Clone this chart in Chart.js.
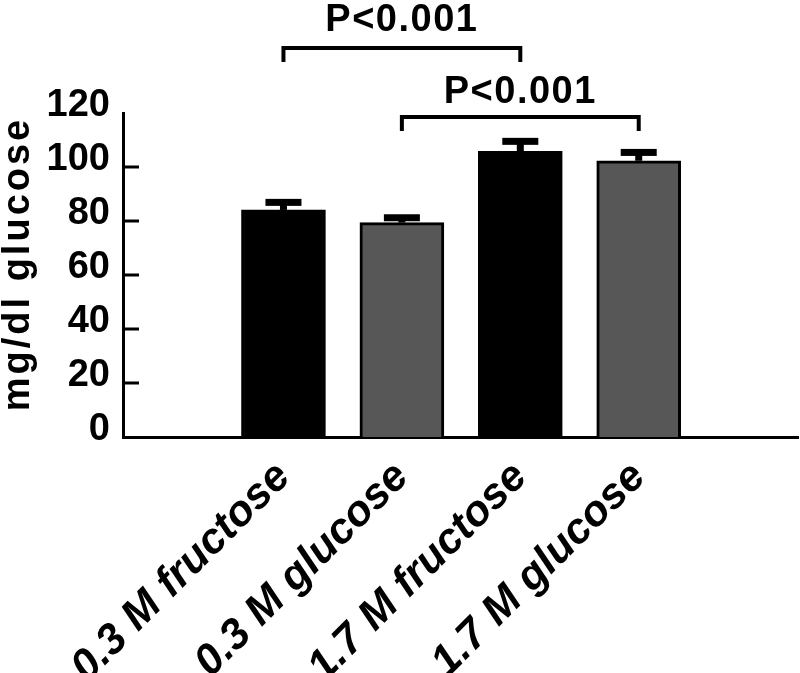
<!DOCTYPE html>
<html><head><meta charset="utf-8">
<script src="https://cdn.jsdelivr.net/npm/chart.js@4.4.1/dist/chart.umd.min.js"></script>
<style>html,body{margin:0;padding:0;background:#fff;overflow:hidden}#wrap{width:800px;height:673px;position:relative}</style>
</head><body><div id="wrap"><canvas id="c"></canvas></div>
<script>
const categories = ['0.3 M fructose', '0.3 M glucose', '1.7 M fructose', '1.7 M glucose'];
const means = [84.1, 79.4, 105.8, 102.3];
const sems = [2.8, 1.8, 3.7, 3.1];
const barColors = ['#000000', '#575757', '#000000', '#575757'];
const yTicks = [0, 20, 40, 60, 80, 100, 120];
const comparisons = [{from: 0, to: 2, label: 'P<0.001'}, {from: 1, to: 3, label: 'P<0.001'}];
const yTitle = 'mg/dl glucose';

const FONT = "'Liberation Sans', Arial, Helvetica, sans-serif";
Chart.defaults.font.family = FONT;
Chart.defaults.color = '#000';

// annotation placement (axis units)
const bracketLevels = [144.1, 118.5];
const bracketDrop = 5.2;
const pLabelLevels = [150.5, 123.7];

const extras = {
  id: 'extras',
  afterDatasetsDraw(chart) {
    const ctx = chart.ctx, ys = chart.scales.y;
    const meta = chart.getDatasetMeta(0);
    ctx.save();
    ctx.fillStyle = '#000';
    meta.data.forEach((bar, i) => {
      const x = bar.x;
      const yTop = ys.getPixelForValue(means[i]);
      const yErr = ys.getPixelForValue(means[i] + sems[i]);
      ctx.fillRect(x - 3.5, yErr, 7, yTop - yErr);
      ctx.fillRect(x - 18, yErr - 3.5, 36, 7);
    });
    ctx.restore();
  },
  afterDraw(chart) {
    const ctx = chart.ctx, xs = chart.scales.x, ys = chart.scales.y, ca = chart.chartArea;
    ctx.save();
    // inward tick marks
    ctx.strokeStyle = '#000';
    ctx.lineWidth = 3;
    yTicks.forEach(v => {
      if (v === yTicks[0] || v === yTicks[yTicks.length - 1]) return;
      const y = ys.getPixelForValue(v);
      ctx.beginPath();
      ctx.moveTo(ca.left, y);
      ctx.lineTo(ca.left + 16, y);
      ctx.stroke();
    });
    // brackets
    ctx.lineWidth = 4;
    ctx.lineJoin = 'miter';
    ctx.font = 'bold 38px ' + FONT;
    ctx.letterSpacing = '1.5px';
    ctx.textAlign = 'center';
    ctx.textBaseline = 'alphabetic';
    ctx.fillStyle = '#000';
    comparisons.forEach((c, k) => {
      const x1 = xs.getPixelForValue(c.from), x2 = xs.getPixelForValue(c.to);
      const yl = ys.getPixelForValue(bracketLevels[k]);
      const yd = ys.getPixelForValue(bracketLevels[k] - bracketDrop);
      ctx.beginPath();
      ctx.moveTo(x1, yd); ctx.lineTo(x1, yl); ctx.lineTo(x2, yl); ctx.lineTo(x2, yd);
      ctx.stroke();
      ctx.fillText(c.label, (x1 + x2) / 2, ys.getPixelForValue(pLabelLevels[k]));
    });
    // y title
    ctx.translate(ca.left - 104, (ca.top + ca.bottom) / 2 - 11);
    ctx.rotate(-Math.PI / 2);
    ctx.font = 'bold 38px ' + FONT;
    ctx.letterSpacing = '3px';
    ctx.textBaseline = 'middle';
    ctx.fillText(yTitle, 0, 0);
    ctx.restore();
  }
};

new Chart(document.getElementById('c'), {
  type: 'bar',
  data: {
    datasets: [{
      data: means.map((m, i) => ({x: i, y: m})),
      backgroundColor: barColors,
      borderColor: '#000',
      borderWidth: 3,
      barThickness: 84
    }]
  },
  options: {
    responsive: true,
    maintainAspectRatio: false,
    animation: false,
    layout: {padding: {top: 113, left: 0, right: 2, bottom: 0}},
    plugins: {legend: {display: false}, tooltip: {enabled: false}},
    scales: {
      x: {
        type: 'linear',
        min: -1.355, max: 4.345,
        offset: false,
        grid: {display: false, drawTicks: false},
        border: {display: true, width: 3, color: '#000'},
        afterBuildTicks: s => { s.ticks = categories.map((_, i) => ({value: i})); },
        afterFit: s => { s.height = 673 - 437; },
        ticks: {
          autoSkip: false, minRotation: 45, maxRotation: 45, padding: 15,
          color: '#000',
          font: {size: 43, weight: 'bold', style: 'italic'},
          callback: v => categories[v] !== undefined ? categories[v] : ''
        }
      },
      y: {
        min: 0, max: 120,
        grid: {display: false, drawTicks: false},
        border: {display: true, width: 3, color: '#000'},
        afterBuildTicks: s => { s.ticks = yTicks.map(v => ({value: v})); },
        afterFit: s => { s.width = 123; },
        ticks: {padding: 13, labelOffset: -7, color: '#000', font: {size: 38, weight: 'bold'}}
      }
    }
  },
  plugins: [extras]
});
</script></body></html>
